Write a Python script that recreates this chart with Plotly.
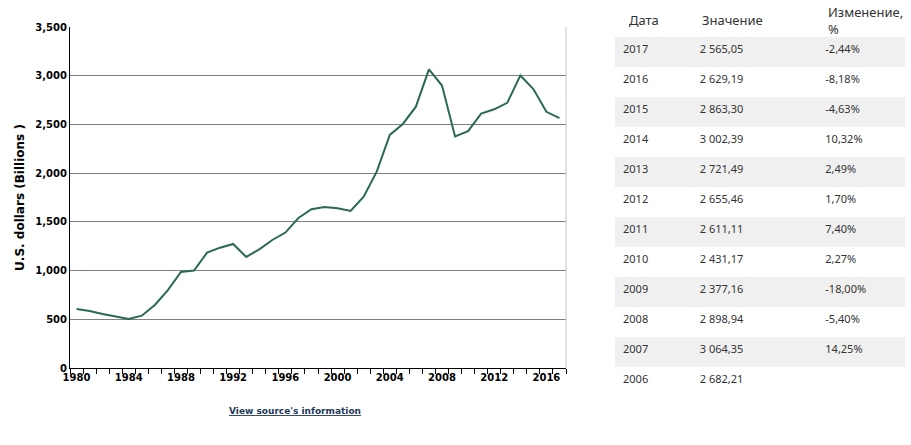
import plotly.graph_objects as go

years = list(range(1980, 2018))
values = [606, 585, 555, 527, 503, 537, 647, 800, 985, 1000,
          1184, 1235, 1273, 1140, 1218, 1314, 1390, 1540, 1630, 1653,
          1640, 1612, 1759, 2015, 2392, 2505, 2682.21, 3064.35, 2898.94, 2377.16,
          2431.17, 2611.11, 2655.46, 2721.49, 3002.39, 2863.30, 2629.19, 2565.05]

tick_years = list(range(1980, 2017, 4))
y_ticks = [0, 500, 1000, 1500, 2000, 2500, 3000, 3500]
y_tick_labels = ["0", "500", "1,000", "1,500", "2,000", "2,500", "3,000", "3,500"]

table_headers = ["Дата", "Значение", "Изменение,<br>%"]
table_years = ["2017", "2016", "2015", "2014", "2013", "2012", "2011", "2010", "2009", "2008", "2007", "2006"]
table_values = ["2 565,05", "2 629,19", "2 863,30", "3 002,39", "2 721,49", "2 655,46",
                "2 611,11", "2 431,17", "2 377,16", "2 898,94", "3 064,35", "2 682,21"]
table_changes = ["-2,44%", "-8,18%", "-4,63%", "10,32%", "2,49%", "1,70%",
                 "7,40%", "2,27%", "-18,00%", "-5,40%", "14,25%", ""]

W, H = 911, 445
tick_font = dict(family="DejaVu Sans", size=10, color="#000000", weight="bold")
title_font = dict(family="DejaVu Sans", size=12, color="#000000", weight="bold")

fig = go.Figure()
fig.add_trace(go.Scatter(x=years, y=values, mode="lines",
                         line=dict(color="#2a6a52", width=2), hoverinfo="skip",
                         showlegend=False))

row_fill = ["#f0f0f0" if i % 2 == 0 else "#ffffff" for i in range(len(table_years))]
fig.add_trace(go.Table(
    domain=dict(x=[615 / W, 905 / W], y=[0, (H - 21) / H]),
    columnwidth=[77, 126, 87],
    header=dict(values=[], fill_color="rgba(0,0,0,0)", line_color="rgba(0,0,0,0)", height=1),
    cells=dict(values=[table_years, table_values, table_changes], align="left", height=30,
               fill_color=[row_fill] * 3, line_color=[row_fill] * 3,
               font=dict(family="Noto Sans", size=11, color="#333333")),
))

header_x = [627, 700, 826]
annotations = [dict(text=t, xref="paper", yref="paper", x=hx / W, y=(H - 20) / H,
                    xanchor="left", yanchor="middle", align="left", showarrow=False,
                    font=dict(family="Noto Sans", size=13, color="#333333"))
               for t, hx in zip(table_headers, header_x)]
annotations.append(dict(text="<u>View source's information</u>", xref="paper", yref="paper",
                        x=295 / W, y=(H - 411) / H, xanchor="center", yanchor="middle",
                        showarrow=False,
                        font=dict(family="DejaVu Sans", size=9, color="#1f3a5a", weight="bold")))

fig.update_layout(
    width=W, height=H,
    margin=dict(l=0, r=0, t=0, b=0),
    paper_bgcolor="#ffffff", plot_bgcolor="#ffffff",
    xaxis=dict(domain=[70 / W, 566 / W], range=[1979.5, 2017.5],
               tickvals=tick_years, ticktext=[str(y) for y in tick_years],
               ticks="", tickfont=tick_font, showgrid=False,
               showline=True, linecolor="#000000", linewidth=1,
               mirror=False, zeroline=False, automargin=False,
               minor=dict(tick0=1979.5, dtick=1, ticks="outside", ticklen=5,
                          tickcolor="#000000", showgrid=False)),
    yaxis=dict(domain=[(H - 368) / H, (H - 27) / H], range=[0, 3500],
               tickvals=y_ticks, ticktext=y_tick_labels, tickfont=tick_font,
               showgrid=True, gridcolor="#808080", gridwidth=1,
               showline=True, linecolor="#000000", linewidth=1,
               zeroline=False, ticks="", automargin=False,
               title=dict(text="U.S. dollars (Billions )", font=title_font, standoff=8)),
    shapes=[dict(type="line", xref="paper", yref="paper", x0=566 / W, x1=566 / W,
                 y0=(H - 368) / H, y1=(H - 27) / H, line=dict(color="#c8c8c8", width=1))],
    annotations=annotations,
)

fig.write_html("out.html", config={"displayModeBar": False},
               post_script="document.body.style.margin='0';")
